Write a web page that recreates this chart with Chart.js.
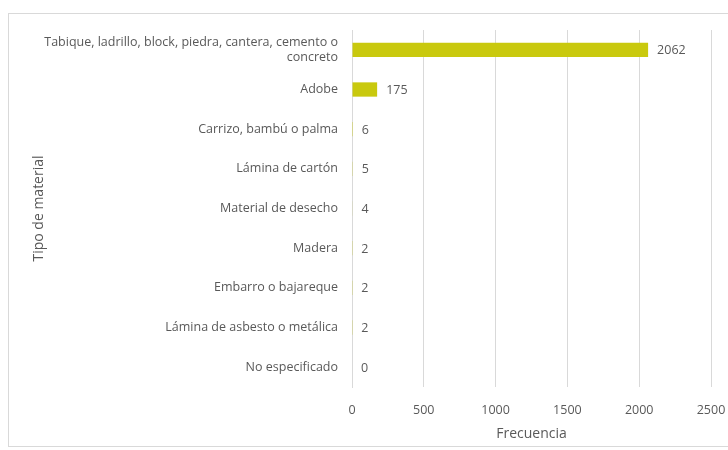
<!DOCTYPE html>
<html>
<head>
<meta charset="utf-8">
<script src="https://cdn.jsdelivr.net/npm/chart.js@4"></script>
<style>
  html, body { margin: 0; padding: 0; background: #fff; overflow: hidden; }
  #wrap { position: relative; width: 728px; height: 450px; }
  #frame { position: absolute; left: 8px; top: 13px; width: 760px; height: 434px; border: 1px solid #d9d9d9; box-sizing: border-box; }
  canvas { position: absolute; left: 0; top: 0; }
</style>
</head>
<body>
<div id="wrap">
  <div id="frame"></div>
  <canvas id="chart" width="728" height="450"></canvas>
</div>
<script>
// Data
const categories = [
    ['Tabique, ladrillo, block, piedra, cantera, cemento o', 'concreto'],
    'Adobe',
    'Carrizo, bambú o palma',
    'Lámina de cartón',
    'Material de desecho',
    'Madera',
    'Embarro o bajareque',
    'Lámina de asbesto o metálica',
    'No especificado'
];
const frecuencia = [2062, 175, 6, 5, 4, 2, 2, 2, 0];
const xTicks = [0, 500, 1000, 1500, 2000, 2500];

const gray = '#595959';
const fontFamily = '"Open Sans", "Noto Sans", sans-serif';

// value labels at bar ends
const valueLabels = {
    id: 'valueLabels',
    afterDatasetsDraw(chart) {
        const ctx = chart.ctx;
        const meta = chart.getDatasetMeta(0);
        ctx.save();
        ctx.fillStyle = gray;
        ctx.font = '12.5px ' + fontFamily;
        ctx.textAlign = 'left';
        ctx.textBaseline = 'middle';
        meta.data.forEach((bar, i) => {
            ctx.fillText(String(frecuencia[i]), bar.x + 9, bar.y + 1);
        });
        ctx.restore();
    }
};

const ctx = document.getElementById('chart').getContext('2d');
new Chart(ctx, {
    type: 'bar',
    data: {
        labels: categories,
        datasets: [{
            data: frecuencia,
            backgroundColor: '#c9c90e',
            barPercentage: 0.36,
            categoryPercentage: 1
        }]
    },
    options: {
        indexAxis: 'y',
        responsive: false,
        animation: false,
        layout: { padding: { left: 31, right: 17, top: 30, bottom: 8 } },
        plugins: {
            legend: { display: false },
            tooltip: { enabled: false }
        },
        scales: {
            x: {
                min: 0,
                max: 2500,
                afterBuildTicks: (scale) => { scale.ticks = xTicks.map(v => ({ value: v })); },
                afterFit: (scale) => {
                    scale.height = 55;
                    scale.paddingLeft = 0;
                    scale.paddingRight = 0;
                },
                grid: { color: '#d9d9d9', drawTicks: false },
                border: { display: false },
                ticks: {
                    color: gray,
                    font: { size: 12.5, family: fontFamily },
                    padding: 16,
                    callback: (v) => String(v)
                },
                title: {
                    display: true,
                    text: 'Frecuencia',
                    color: gray,
                    font: { size: 14, family: fontFamily },
                    padding: { top: 2, bottom: 0 }
                }
            },
            y: {
                afterFit: (scale) => { scale.width = 321; },
                grid: { display: false },
                border: { display: true, color: '#d9d9d9' },
                ticks: { color: gray, font: { size: 12.5, family: fontFamily }, padding: 6, autoSkip: false },
                title: {
                    display: true,
                    text: 'Tipo de material',
                    color: gray,
                    font: { size: 14, family: fontFamily },
                    padding: { top: 0, bottom: 0 }
                }
            }
        }
    },
    plugins: [valueLabels]
});
</script>
</body>
</html>
